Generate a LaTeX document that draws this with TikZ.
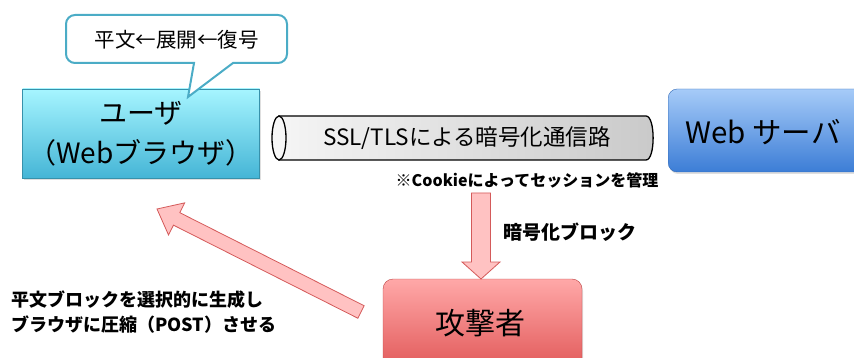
\documentclass[tikz,border=0pt]{standalone}
\usepackage{fontspec}
\setmainfont{Noto Sans CJK JP}
\usetikzlibrary{calc,shadows}
\definecolor{cyanTop}{HTML}{A6F5FF}
\definecolor{cyanBot}{HTML}{45B5D6}
\definecolor{blueTop}{HTML}{A6CBF8}
\definecolor{blueBot}{HTML}{3C7DD6}
\definecolor{redTop}{HTML}{FFA8A8}
\definecolor{redBot}{HTML}{DE5050}
\definecolor{callBorder}{HTML}{4BACC6}
\definecolor{arrFill}{HTML}{FFC2C2}
\definecolor{arrBorder}{HTML}{D45A5A}
\newcommand\fatarr[5]{% tail, tip, shaft half, head half, head length
  \path let \p1=($(#2)!#5!(#1)$) in
    coordinate (fh) at (\p1);
  \draw[fatarrow]
    ($(#1)!#3!90:(#2)$) -- ($(fh)!#3!90:(#2)$) -- ($(fh)!#4!90:(#2)$) --
    (#2) -- ($(fh)!#4!-90:(#2)$) -- ($(fh)!#3!-90:(#2)$) --
    ($(#1)!#3!-90:(#2)$) -- cycle;}
\tikzset{
  boxshadow/.style={drop shadow={opacity=0.25,shadow xshift=1pt,shadow yshift=-2pt}},
  userbox/.style={rectangle, top color=cyanTop, bottom color=cyanBot, draw=cyanBot!80!black, line width=0.4pt, boxshadow},
  serverbox/.style={rectangle, rounded corners=9pt, top color=blueTop, bottom color=blueBot, draw=blueBot!85!black, line width=0.4pt, boxshadow},
  attackbox/.style={rectangle, rounded corners=10pt, top color=redTop, bottom color=redBot, draw=redBot!85!black, line width=0.4pt, boxshadow},
  callout/.style={draw=callBorder, line width=2pt, fill=white},
  fatarrow/.style={fill=arrFill, draw=arrBorder, line width=0.8pt, line join=miter},
  lbl/.style={inner sep=0pt, font=\bfseries\fontsize{16}{24}\selectfont, align=left}
}
\begin{document}
\begin{tikzpicture}[x=1pt,y=-1pt]
\useasboundingbox (0,0) rectangle (854,358);
\clip (0,0) rectangle (854,358);

% user box
\node[userbox, minimum width=237pt, minimum height=89pt, align=center, inner sep=0pt,
      font=\fontsize{28}{40}\selectfont] (user) at (141,133.5) {ユーザ\\（Webブラウザ）};

% callout
\draw[callout] (66,39) [rounded corners=9pt] -- (66,15) -- (287,15) -- (287,63)
   [sharp corners] -- (233,63) -- (188,97) -- (194,63) [rounded corners=9pt] -- (66,63) -- cycle;
\node[inner sep=0pt, font=\fontsize{20.5}{22}\selectfont] (callout) at (176.5,40) {平文←展開←復号};

% pipe (cylinder)
\draw[line width=1.3pt, left color=gray!8, right color=gray!42]
  (279,116) -- (646,116) .. controls (655.5,116) and (655.5,160) .. (646,160) -- (279,160) -- cycle;
\draw[line width=1.3pt, fill=gray!6] (279,138) ellipse [x radius=7, y radius=22];
\node[inner sep=0pt, font=\fontsize{22.5}{24}\selectfont] (pipe) at (467,138) {SSL/TLSによる暗号化通信路};

\node[lbl, font=\bfseries\fontsize{16}{18}\selectfont] (cookie) at (527,180) {※Cookieによってセッションを管理};

% web server
\node[serverbox, minimum width=210pt, minimum height=83pt, anchor=west] (server) at (668,130.5) {};
\node[inner sep=0pt, font=\fontsize{29.5}{32}\selectfont] (servlabel) at (763,132) {Web サーバ};

% attacker
\node[attackbox, minimum width=199pt, minimum height=101pt] (attacker) at (482.5,329.5) {};
\node[inner sep=0pt, font=\fontsize{30}{34}\selectfont] (attlabel) at (480,323) {攻撃者};

% arrows
\coordinate (dtop) at (481,193);
\coordinate (dtip) at (481,279);
\fatarr{dtop}{dtip}{9.5pt}{19pt}{17pt}
\node[lbl, font=\bfseries\fontsize{19}{20}\selectfont, anchor=west] (enc) at (503,232) {暗号化ブロック};

\coordinate (atail) at (361,312);
\coordinate (atip) at (157,209);
\fatarr{atail}{atip}{7pt}{18pt}{22pt}

\node[lbl, font=\bfseries\fontsize{18}{25}\selectfont, anchor=west] (plain) at (11,312)
  {平文ブロックを選択的に生成し\\ブラウザに圧縮（POST）させる};
\end{tikzpicture}
\end{document}
